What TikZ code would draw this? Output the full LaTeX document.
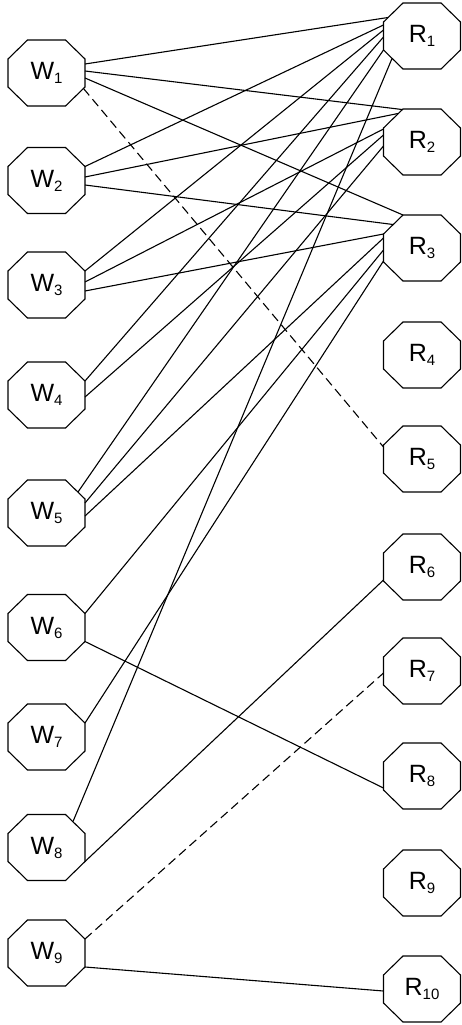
\documentclass[tikz,border=0pt]{standalone}
\usepackage{fontspec}
\setmainfont{Liberation Sans}
\usetikzlibrary{calc}
\newcommand{\octlab}[2]{#1\raisebox{-4pt}{\fontsize{15pt}{15pt}\selectfont #2}}
\begin{document}
\begin{tikzpicture}[x=1pt,y=-1pt,
  oct/.style={rectangle, minimum width=77pt, minimum height=66pt, inner sep=0pt,
    font=\fontsize{25pt}{25pt}\selectfont},
  octline/.style={line width=1.1pt, line join=miter},
  edge/.style={line width=1.1pt},
  dashededge/.style={line width=1.1pt, dash pattern=on 9pt off 5pt}]
\useasboundingbox (0,0) rectangle (461,1025);
% left column
\node[oct] (W1) at (46.5,73)  {\octlab{W}{1}};
\node[oct] (W2) at (46.5,180.5) {\octlab{W}{2}};
\node[oct] (W3) at (46.5,285) {\octlab{W}{3}};
\node[oct] (W4) at (46.5,395) {\octlab{W}{4}};
\node[oct] (W5) at (46.5,513) {\octlab{W}{5}};
\node[oct] (W6) at (46.5,627.5) {\octlab{W}{6}};
\node[oct] (W7) at (46.5,737) {\octlab{W}{7}};
\node[oct] (W8) at (46.5,847.5) {\octlab{W}{8}};
\node[oct] (W9) at (46.5,953) {\octlab{W}{9}};
% right column
\node[oct] (R1) at (422,36)  {\octlab{R}{1}};
\node[oct] (R2) at (422,142) {\octlab{R}{2}};
\node[oct] (R3) at (422,248) {\octlab{R}{3}};
\node[oct] (R4) at (422,355) {\octlab{R}{4}};
\node[oct] (R5) at (422,459) {\octlab{R}{5}};
\node[oct] (R6) at (422,567) {\octlab{R}{6}};
\node[oct] (R7) at (422,671) {\octlab{R}{7}};
\node[oct] (R8) at (422,776) {\octlab{R}{8}};
\node[oct] (R9) at (422,883) {\octlab{R}{9}};
\node[oct] (R10) at (422,989) {\octlab{R}{10}};
% octagon outlines
\foreach \n in {W1,W2,W3,W4,W5,W6,W7,W8,W9,R1,R2,R3,R4,R5,R6,R7,R8,R9,R10}
  \draw[octline] ($(\n)+(-19,-33)$) -- ($(\n)+(19,-33)$) -- ($(\n)+(38.5,-14)$)
    -- ($(\n)+(38.5,14)$) -- ($(\n)+(19,33)$) -- ($(\n)+(-19,33)$)
    -- ($(\n)+(-38.5,14)$) -- ($(\n)+(-38.5,-14)$) -- cycle;
% solid connectors
\foreach \a/\ao/\b/\bo in {
  W1/{38.5,-9}/R1/{-34,-18.5},
  W1/{38.5,-2}/R2/{-20,-32.5},
  W1/{38.5,5}/R3/{-19,-33},
  W2/{38.5,-14}/R1/{-38.5,-11},
  W2/{38.5,-3.5}/R2/{-24,-28.5},
  W2/{38.5,4.5}/R3/{-29,-23.5},
  W3/{38.5,-14}/R1/{-38.5,-6},
  W3/{38.5,-3}/R2/{-38.5,-13},
  W3/{38.5,6}/R3/{-38.5,-14},
  W4/{38.5,-14}/R1/{-38.5,1},
  W4/{38.5,2}/R2/{-38.5,-7},
  W5/{31.5,-21}/R1/{-38.5,14},
  W5/{38.5,-10}/R2/{-38.5,4},
  W5/{38.5,3}/R3/{-38.5,-10},
  W6/{38.5,-14}/R3/{-38.5,2},
  W6/{38.5,14}/R8/{-38.5,12},
  W7/{38.5,-14}/R3/{-38.5,13},
  W8/{26.5,-26}/R1/{-30,22.5},
  W8/{38.5,14}/R6/{-38.5,13},
  W9/{38.5,14}/R10/{-38.5,2}}
  \draw[edge] ($(\a)+(\ao)$) -- ($(\b)+(\bo)$);
% dashed connectors
\draw[dashededge] ($(W1)+(37,15.5)$) -- ($(R5)+(-38.5,-12)$);
\draw[dashededge] ($(W9)+(38.5,-14)$) -- ($(R7)+(-38.5,2)$);
\end{tikzpicture}
\end{document}
